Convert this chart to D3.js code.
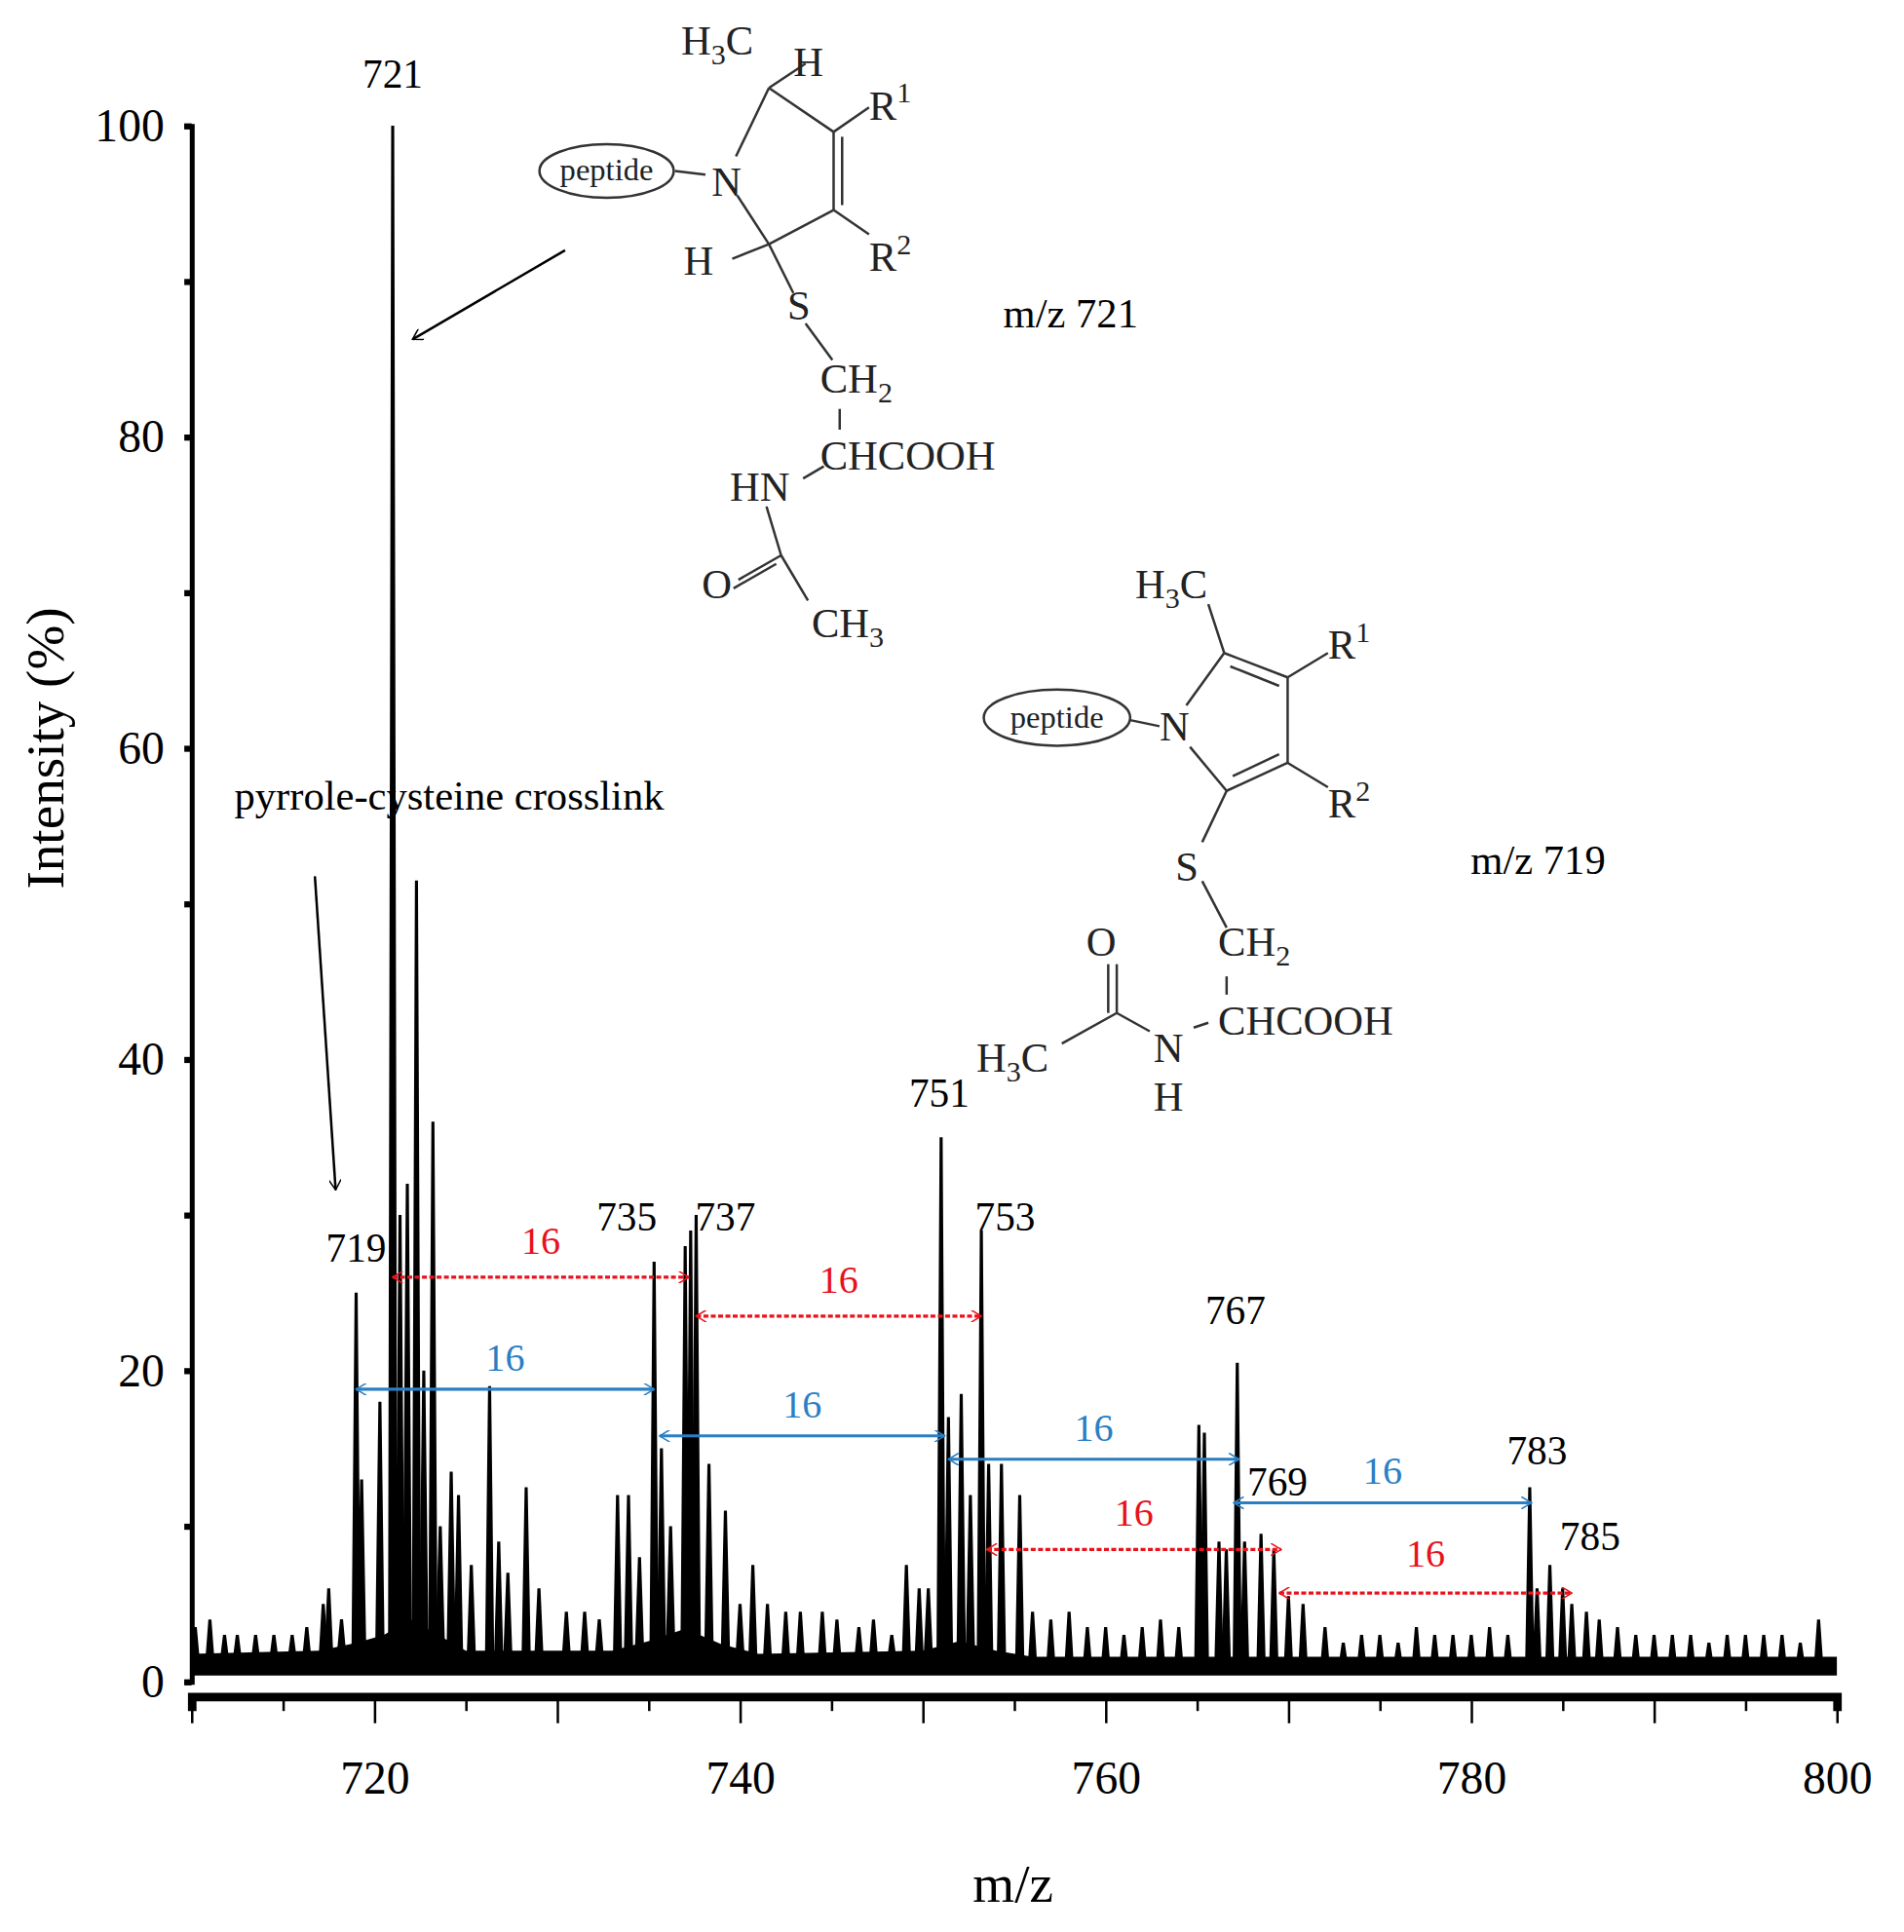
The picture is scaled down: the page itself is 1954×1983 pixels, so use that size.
<!DOCTYPE html>
<html><head><meta charset="utf-8">
<script src="https://cdn.jsdelivr.net/npm/d3@7"></script>
<style>body{margin:0;background:#fff}svg text{font-family:"Liberation Serif","DejaVu Serif",serif}</style>
</head><body>
<svg id="chart" width="1954" height="1983" viewBox="0 0 1560 1583"></svg>
<script>
// peak list: [m/z, intensity %]
const peaks = [
  [710.2,3.5],[711,4],[711.8,3],[712.5,3],[713.5,3],[714.5,3],[715.5,3],[716.3,3.5],[717.2,5],[717.5,6],[718.2,4],
  [719,25],[719.3,13],[720.3,18],[721,100],[721.4,30],[721.8,32],[722.3,51.5],[722.7,20],[723.2,36],[723.6,10],
  [724.2,13.5],[724.6,12],[725.3,7.5],[726.3,19],[726.8,9],[727.3,7],[728.3,12.5],[729,6],[730.5,4.5],[731.5,4.5],
  [732.3,4],[733.3,12],[733.9,12],[734.5,8],[735.3,27],[735.7,15],[736.2,10],[737,28],[737.3,29],[737.6,30],
  [738.3,14],[739.2,11],[740,5],[740.7,7.5],[741.5,5],[742.5,4.5],[743.3,4.5],[744.5,4.5],[745.3,4],[746.5,3.5],
  [747.3,4],[748.3,3],[749.1,7.5],[749.8,6],[750.3,6],[751,35],[751.4,17],[752.1,18.5],[752.6,12],[753.2,29],
  [753.6,14],[754.3,14],[755.3,12],[756,4.5],[757,4],[758,4.5],[759,3.5],[760,3.5],[761,3],[762,3.5],[763,4],
  [764,3.5],[765.1,16.5],[765.4,16],[766.2,9],[766.6,8.5],[767.2,20.5],[767.6,9],[768.5,9.5],[769.2,8.5],
  [770,5.5],[770.8,5],[772,3.5],[773,2.5],[774,3],[775,3],[776,2.5],[777,3.5],[778,3],[779,3],[780,3],[781,3.5],
  [782,3],[783.2,12.5],[783.6,6],[784.3,7.5],[785,6],[785.5,5],[786.3,4.5],[787,4],[788,3.5],[789,3],[790,3],
  [791,3],[792,3],[793,2.5],[794,3],[795,3],[796,3],[797,3],[798,2.5],[799,4]
];
// baseline noise band top under the peaks
const baseline = [[710,1.8],[717,2],[719,2.5],[720.5,3],[722,4],[723.5,3],[725,2],[733,2],[735,2.6],
  [737,3.4],[739,2.4],[741,1.8],[750,2],[752,2.6],[754,2],[756,1.6],[800,1.6]];
const baseFloor = 0.4;
const peakLabels = [[721,"721",102],[719,"719",26.5],[733.8,"735",28.5],[739.2,"737",28.5],[750.9,"751",36.5],
  [754.5,"753",28.5],[767.1,"767",22.5],[769.4,"769",11.5],[783.6,"783",13.5],[786.5,"785",8]];
// [from, to, y, label-y]
const redArrows = [[721,737.2,26,27.5],[737.6,753.2,23.5,25],[753.5,769.6,8.5,10],[769.5,785.5,5.7,7.4]];
const blueArrows = [[719,735.3,18.8,20],[735.6,751.2,15.8,17],[751.4,767.3,14.3,15.5],[767,783.3,11.5,12.7]];
const xTicks = [720,740,760,780,800];
const yTicks = [0,20,40,60,80,100];

const svg = d3.select("#chart");
const x = d3.scaleLinear().domain([710,800]).range([157,1505]);
const y = d3.scaleLinear().domain([0,100]).range([1378,103]);

const defs = svg.append("defs");
[["hr","#e8121b"],["hb","#2a7fc4"],["hk","#000"]].forEach(([id,c])=>{
  defs.append("marker").attr("id",id).attr("viewBox","0 -6 10 12").attr("refX",10).attr("refY",0)
    .attr("markerWidth",10).attr("markerHeight",10).attr("markerUnits","userSpaceOnUse").attr("orient","auto-start-reverse")
    .append("path").attr("d","M0,-6 L10,0 L0,6").attr("fill","none").attr("stroke",c).attr("stroke-width",1.5);
});

// baseline noise band
const baseAt = d3.scaleLinear().domain(baseline.map(d=>d[0])).range(baseline.map(d=>d[1]));
svg.append("path").datum(baseline)
  .attr("d", d3.area().x(d=>x(d[0])).y0(y(baseFloor)).y1(d=>y(d[1]))).attr("fill","#000");
// peaks
svg.append("g").selectAll("path").data(peaks).join("path")
  .attr("d", d=>{const b=y(baseAt(d[0])-0.5);return `M${x(d[0]-0.17)},${b}L${x(d[0])},${y(d[1])}L${x(d[0]+0.17)},${b}`;})
  .attr("fill","#000").attr("stroke","#000").attr("stroke-width",2.5).attr("stroke-linejoin","miter");

// axes
svg.append("g").attr("transform",`translate(0,${y(0)+12})`)
  .call(d3.axisBottom(x).tickValues(d3.range(710,801,5)).tickSize(12).tickFormat(d=>xTicks.includes(d)?d:""))
  .call(g=>{g.select(".domain").attr("stroke-width",7);g.selectAll(".tick line").attr("stroke-width",2)
    .attr("y2",d=>d%10===0?22:12);
    g.selectAll("text").attr("font-size",38).attr("dy","1.7em").style("font-family","Liberation Serif");});
svg.append("g").attr("transform",`translate(157,0)`)
  .call(d3.axisLeft(y).tickValues(d3.range(0,101,10)).tickSize(6).tickFormat(d=>yTicks.includes(d)?d:""))
  .call(g=>{g.select(".domain").attr("stroke-width",4);g.selectAll(".tick line").attr("stroke-width",5);
    g.selectAll("text").attr("font-size",38).attr("dx","-0.35em").style("font-family","Liberation Serif");});
svg.append("text").attr("x",830).attr("y",1558).attr("text-anchor","middle").attr("font-size",44).text("m/z");
svg.append("text").attr("transform",`translate(52,${y(60)}) rotate(-90)`).attr("text-anchor","middle")
  .attr("font-size",44).text("Intensity (%)");

// peak labels
svg.append("g").selectAll("text").data(peakLabels).join("text")
  .attr("x",d=>x(d[0])).attr("y",d=>y(d[2])-6).attr("text-anchor","middle").attr("font-size",33).text(d=>d[1]);

// separation arrows
function arrows(data, color, marker, dash){
  const g = svg.append("g");
  g.selectAll("line").data(data).join("line")
    .attr("x1",d=>x(d[0])).attr("x2",d=>x(d[1])).attr("y1",d=>y(d[2])).attr("y2",d=>y(d[2]))
    .attr("stroke",color).attr("stroke-width",2.5).attr("stroke-dasharray",dash)
    .attr("marker-start",`url(#${marker})`).attr("marker-end",`url(#${marker})`);
  g.selectAll("text").data(data).join("text")
    .attr("x",d=>x((d[0]+d[1])/2)).attr("y",d=>y(d[3])).attr("text-anchor","middle")
    .attr("font-size",32).attr("fill",color).text("16");
}
arrows(redArrows,"#e8121b","hr","4,2");
arrows(blueArrows,"#2a7fc4","hb",null);

// annotation text and pointer arrows
const ann = svg.append("g").attr("font-size",34);
ann.append("text").attr("x",192).attr("y",663).text("pyrrole-cysteine crosslink");
ann.append("text").attr("x",822).attr("y",268).text("m/z 721");
ann.append("text").attr("x",1205).attr("y",716).text("m/z 719");
ann.append("line").attr("x1",463).attr("y1",205).attr("x2",338).attr("y2",278).attr("stroke","#000").attr("stroke-width",2).attr("marker-end","url(#hk)");
ann.append("line").attr("x1",258).attr("y1",718).attr("x2",275).attr("y2",975).attr("stroke","#000").attr("stroke-width",2).attr("marker-end","url(#hk)");

// chemical structures
function bonds(g, list){
  list.forEach(b=>g.append("line").attr("x1",b[0]).attr("y1",b[1]).attr("x2",b[2]).attr("y2",b[3])
    .attr("stroke","#333").attr("stroke-width",2));
}
function label(g, px, py, t, sub, sup, after){
  const tx = g.append("text").attr("x",px).attr("y",py).attr("font-size",34).attr("fill","#222");
  tx.append("tspan").text(t);
  if(sub) tx.append("tspan").attr("dy",8).attr("font-size",24).text(sub);
  if(sup) tx.append("tspan").attr("dy",-14).attr("font-size",24).text(sup);
  if(after) tx.append("tspan").attr("dy",sub?-8:14).text(after);
}
const s1 = svg.append("g");
s1.append("ellipse").attr("cx",497).attr("cy",140).attr("rx",55).attr("ry",22).attr("fill","none").attr("stroke","#333").attr("stroke-width",2);
s1.append("text").attr("x",497).attr("y",148).attr("text-anchor","middle").attr("font-size",26).attr("fill","#222").text("peptide");
bonds(s1,[[553,140,578,143],[603,128,630,72],[630,72,683,108],[683,108,683,172],[690,112,690,168],[683,172,630,200],
  [630,200,604,160],[683,108,712,88],[683,172,712,192],[630,200,600,212],[630,72,660,52],[630,200,650,240],
  [660,265,682,295],[688,335,688,352],[658,392,675,382],[628,415,640,455],[640,455,605,475],[636,462,601,482],[640,455,662,492]]);
label(s1,583,160,"N");
label(s1,558,45,"H","3","","C");
label(s1,650,62,"H");
label(s1,712,98,"R","","1");
label(s1,712,222,"R","","2");
label(s1,560,225,"H");
label(s1,645,262,"S");
label(s1,672,322,"CH","2");
label(s1,672,385,"CHCOOH");
label(s1,598,410,"HN");
label(s1,575,490,"O");
label(s1,665,522,"CH","3");

const s2 = svg.append("g");
s2.append("ellipse").attr("cx",866).attr("cy",588).attr("rx",60).attr("ry",23).attr("fill","none").attr("stroke","#333").attr("stroke-width",2);
s2.append("text").attr("x",866).attr("y",596).attr("text-anchor","middle").attr("font-size",26).attr("fill","#222").text("peptide");
bonds(s2,[[926,590,950,595],[972,578,1003,535],[1003,535,1055,555],[1008,546,1048,562],[1055,555,1055,625],
  [1055,625,1005,648],[1048,618,1010,636],[1005,648,975,612],[1003,535,990,495],[1055,555,1088,535],[1055,625,1088,645],
  [1005,648,985,690],[985,722,1005,760],[1005,800,1005,815],[978,842,990,838],[942,845,915,830],[915,830,870,855],
  [915,830,915,790],[908,830,908,790]]);
label(s2,950,607,"N");
label(s2,930,490,"H","3","","C");
label(s2,1088,540,"R","","1");
label(s2,1088,670,"R","","2");
label(s2,963,722,"S");
label(s2,998,783,"CH","2");
label(s2,998,848,"CHCOOH");
label(s2,945,870,"N");
label(s2,945,910,"H");
label(s2,890,783,"O");
label(s2,800,878,"H","3","","C");
</script>
</body></html>
